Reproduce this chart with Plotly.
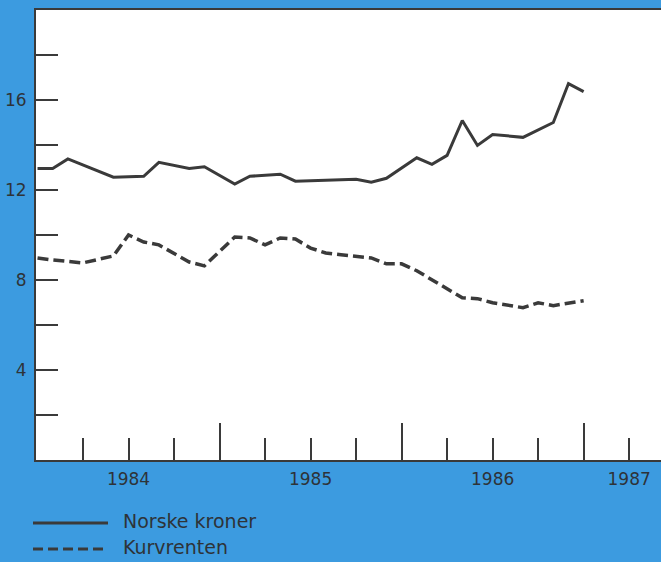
import plotly.graph_objects as go

# Months counted from January 1984 (0 = Jan 1984)
nok_months = [0, 1, 2, 5, 7, 8, 10, 11, 13, 14, 16, 17, 21, 22, 23, 25, 26, 27, 28, 29, 30, 32, 34, 35, 36]
nok_values = [12.96, 12.96, 13.38, 12.57, 12.61, 13.23, 12.96, 13.03, 12.26, 12.61, 12.70, 12.39,
              12.48, 12.35, 12.52, 13.43, 13.14, 13.54, 15.09, 13.98, 14.47, 14.34, 15.0, 16.73, 16.37]

kurv_months = [0, 1, 3, 5, 6, 7, 8, 10, 11, 13, 14, 15, 16, 17, 18, 19, 20, 22, 23, 24, 25, 28, 29, 30, 32, 33, 34, 36]
kurv_values = [8.98, 8.89, 8.76, 9.07, 10.0, 9.69, 9.56, 8.8, 8.63, 9.91, 9.87, 9.56, 9.87, 9.82,
               9.42, 9.2, 9.12, 8.98, 8.72, 8.72, 8.41, 7.21, 7.17, 6.99, 6.77, 6.99, 6.86, 7.08]

year_label_pos = [6, 18, 30, 39]
year_labels = ["1984", "1985", "1986", "1987"]
year_tick_pos = [12, 24, 36]
quarter_tick_pos = [3, 6, 9, 15, 18, 21, 27, 30, 33, 39]
y_tick_vals = [2, 4, 6, 8, 10, 12, 14, 16, 18]
y_tick_text = ["", "4", "", "8", "", "12", "", "16", ""]
series_names = ["Norske kroner", "Kurvrenten"]

W, H = 661, 562
ML, MR, MT, MB = 36, 0, 10, 102
BLUE = "#3c9be0"
INK = "#3a3a3a"
TXT = "#2e3338"
FONT = "DejaVu Sans, Liberation Sans, Arial, sans-serif"

fig = go.Figure()
fig.add_trace(go.Scatter(x=nok_months, y=nok_values, mode="lines", name=series_names[0],
                         line=dict(color=INK, width=3), showlegend=False))
fig.add_trace(go.Scatter(x=kurv_months, y=kurv_values, mode="lines", name=series_names[1],
                         line=dict(color=INK, width=3.5, dash="11px,5px"), showlegend=False))
# invisible trace to carry the label axis
fig.add_trace(go.Scatter(x=[year_label_pos[0]], y=[None], xaxis="x2", showlegend=False,
                         hoverinfo="skip", mode="markers"))

xmax = (W - ML - MR) / 15.17 - 0.1

fig.update_layout(
    width=W, height=H,
    margin=dict(l=ML, r=MR, t=MT, b=MB),
    paper_bgcolor=BLUE,
    plot_bgcolor="white",
    font=dict(family=FONT, color=TXT, size=17),
    showlegend=False,
    xaxis=dict(range=[-0.1, xmax], tickvals=year_tick_pos, ticks="inside", ticklen=37,
               tickwidth=2, tickcolor=INK, showticklabels=False, showgrid=False,
               zeroline=False, showline=True, linecolor=INK, linewidth=2, mirror=True,
               minor=dict(tickmode="array", tickvals=quarter_tick_pos, ticks="inside",
                          ticklen=22, tickwidth=2, tickcolor=INK, showgrid=False)),
    xaxis2=dict(overlaying="x", matches="x", anchor="y", side="bottom",
                tickvals=year_label_pos, ticktext=year_labels, ticks="",
                showgrid=False, zeroline=False, showline=False,
                ticklabelstandoff=7, tickfont=dict(size=17, color=TXT, family=FONT)),
    yaxis=dict(range=[0, 20], tickvals=y_tick_vals, ticktext=y_tick_text, ticks="inside",
               ticklen=22, tickwidth=2, tickcolor=INK, showgrid=False, zeroline=False,
               showline=True, linecolor=INK, linewidth=2, ticklabelstandoff=4,
               tickfont=dict(size=17, color=TXT, family=FONT)),
)


def px_x(px):
    return (px - ML) / (W - ML - MR)


def px_y(py):
    return (H - MB - py) / (H - MT - MB)


legend_rows = [(523, "solid", series_names[0]), (549, "10px,5px", series_names[1])]
for py, dash, name in legend_rows:
    fig.add_shape(type="line", xref="paper", yref="paper",
                  x0=px_x(33), x1=px_x(108), y0=px_y(py), y1=px_y(py),
                  line=dict(color=INK, width=3, dash=dash))
    fig.add_annotation(xref="paper", yref="paper", x=px_x(121), y=px_y(py - 2),
                       text=name, showarrow=False, xanchor="left", yanchor="middle",
                       font=dict(size=19, color=TXT, family=FONT))

fig.write_html("out.html", config={"displayModeBar": False},
               post_script="document.body.style.margin='0';document.body.style.overflow='hidden';")
